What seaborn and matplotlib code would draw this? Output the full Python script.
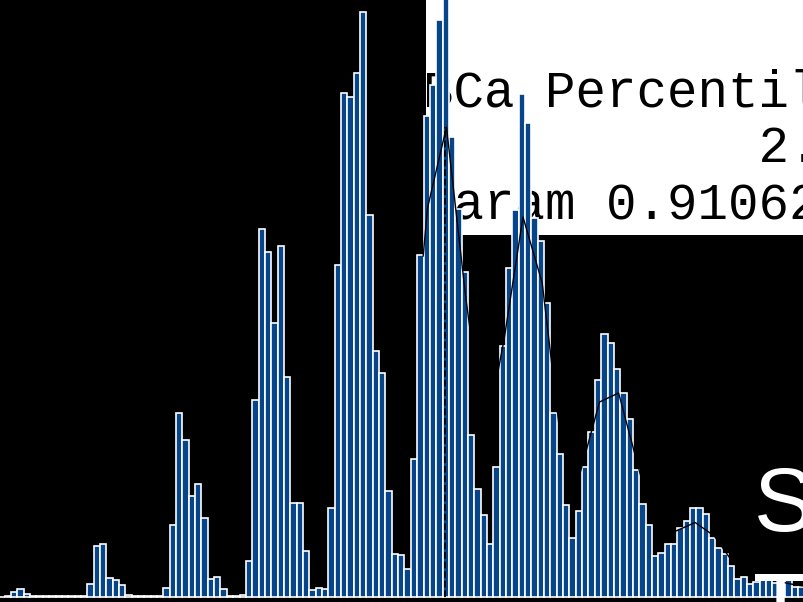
#!/usr/bin/env python3

import numpy as np
import pandas as pd
import matplotlib

matplotlib.use("Agg")
import matplotlib.pyplot as plt
from matplotlib.patches import Rectangle
import seaborn as sns

# histogram counts, one per bin (bin index = position on the x axis)
counts = [
    0, 1, 5, 8, 3, 1, 1, 1, 1, 1, 1, 1, 1, 1,
    13, 51, 53, 19, 17, 12, 2, 1, 1, 1, 1, 1,
    9, 72, 184, 157, 101, 113, 79, 18, 20, 8, 1, 1, 2,
    36, 197, 368, 345, 274, 351, 220, 94, 94, 46, 7, 9, 8,
    89, 332, 504, 500, 524, 585, 382, 246, 224, 106, 43, 42, 28,
    138, 342, 481, 512, 577, 640, 460, 388, 325, 162, 108, 82, 53,
    130, 251, 329, 387, 503, 474, 379, 356, 294, 184, 143, 92, 59,
    86, 130, 165, 217, 263, 254, 228, 204, 178, 127, 93, 72, 41,
    44, 53, 53, 69, 76, 89, 89, 83, 59, 49, 43, 31, 18,
    20, 13, 15, 18, 17, 14, 17, 18, 10, 10,
]

# density curve drawn over the second half
kde_x = [66.95, 67.63, 70.62, 73.65, 76.67, 79.69, 82.68, 85.71, 88.72, 91.73,
         94.74, 97.75, 100.77, 103.78, 106.79, 109.82, 112.83, 115.84, 118.85,
         121.88, 124.89, 127.91]
kde_y = [341, 389, 470, 300, 157, 257, 380, 314, 152, 125,
         195, 204, 132, 62, 66, 74.5, 61, 34, 22,
         17, 13, 10]

param_value = 70.39
text_lines = ["BCa Percentile", "           2.5%", "Param 0.910623"]
big_labels = ["S", "T"]

BAR_COLOR = "#07458a"

n_bins = len(counts)
df = pd.DataFrame({"x": np.arange(n_bins) + 0.5, "count": counts})

fig = plt.figure(figsize=(8.04, 6.02), dpi=100)
fig.patch.set_facecolor("black")
ax = fig.add_axes([0, 0, 1, 1])

sns.histplot(
    data=df, x="x", weights="count", bins=n_bins, binrange=(0, n_bins),
    color=BAR_COLOR, edgecolor="white", linewidth=1.2, alpha=1, ax=ax,
)
sns.lineplot(x=kde_x, y=kde_y, color="black", linewidth=1.0,
             estimator=None, sort=False, ax=ax)
ax.vlines(param_value, 0, max(kde_y), colors="black", linestyles="--",
          linewidth=1.3, zorder=2)

# white panel behind the bars with the statistics text
ax.add_patch(Rectangle((0.53, 0.6096), 0.6, 0.5, transform=ax.transAxes,
                       facecolor="white", edgecolor="none", zorder=0.5))
mono = dict(family="Liberation Mono", fontsize=36.5, color="black",
            transform=ax.transAxes, zorder=0.6, va="baseline", ha="left")
ax.text(0.5255, 0.8239, text_lines[0], **mono)
ax.text(0.5255, 0.7304, text_lines[1], **mono)
ax.text(0.5265, 0.6346, text_lines[2], **mono)

sans = dict(family="Liberation Sans", fontsize=65, color="white",
            transform=ax.transAxes, zorder=3, va="baseline", ha="left")
ax.text(0.938, 0.118, big_labels[0], **sans)
ax.text(0.937, -0.0576, big_labels[1], **sans)

ax.set_xlim(0.252, 126.97)
ax.set_ylim(-5, 597)
ax.set_axis_off()

fig.savefig("out.png", dpi=100, facecolor=fig.get_facecolor())
